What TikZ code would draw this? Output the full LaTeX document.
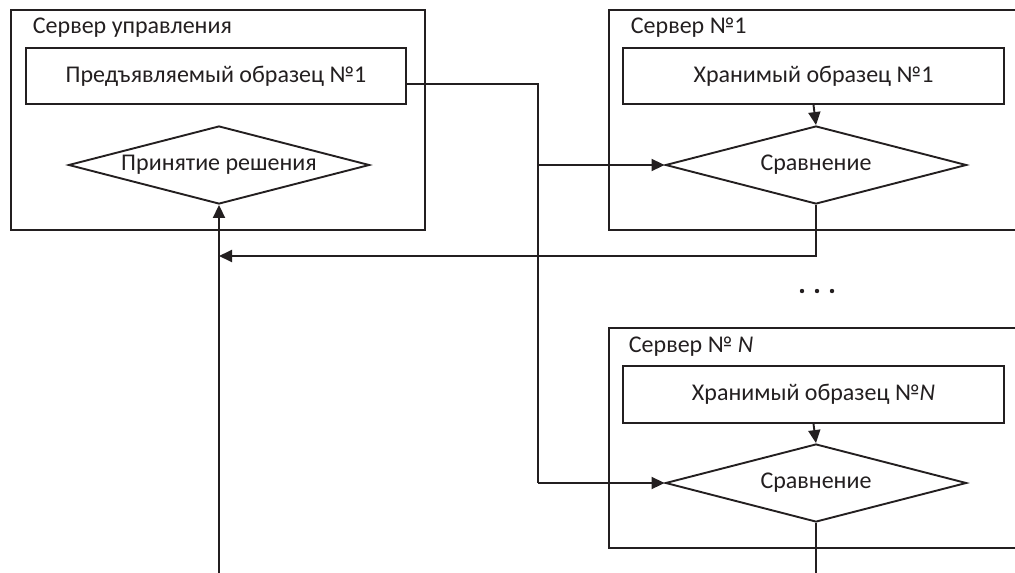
\documentclass[tikz,border=0pt]{standalone}
\usepackage{fontspec}
\setmainfont{Carlito}
\usetikzlibrary{shapes.geometric,arrows.meta,calc}
\definecolor{ink}{HTML}{231F20}
\begin{document}
\begin{tikzpicture}[x=1pt,y=-1pt,
  line width=1.9pt, draw=ink, text=ink,
  every node/.style={font=\fontsize{24}{28}\selectfont},
  frame/.style={draw, rectangle, anchor=north west, inner sep=0pt},
  title/.style={anchor=base west, inner sep=0pt},
  blockbox/.style={draw, rectangle, minimum width=380pt, minimum height=56pt, inner sep=0pt},
  decision/.style={draw, diamond, aspect=3.86, minimum width=301pt, minimum height=78pt, inner sep=0pt},
  arr/.style={-{Triangle[length=13pt,width=12pt]}}]
\useasboundingbox (0,0) rectangle (1015,573);
\clip (0,0) rectangle (1015,573);

% control server
\node[frame, minimum width=414pt, minimum height=220pt] (ctl) at (10,9) {};
\node[title] (ctltitle) at (32,33) {Сервер управления};
\node[blockbox] (pred) at (216,76) {Предъявляемый образец №1};
\node[decision] (dec) at (219,165) {Принятие решения};

% server 1
\node[frame, minimum width=430pt, minimum height=220pt] (s1) at (608,9) {};
\node[title] (s1title) at (630,33) {Сервер №1};
\node[blockbox, minimum width=381pt] (st1) at (813.5,76) {Хранимый образец №1};
\node[decision] (cmp1) at (816,165) {Сравнение};

% ellipsis between servers
\foreach \x in {802,817,832} \fill[ink] (\x,291) circle (2.2pt);

% server N
\node[frame, minimum width=430pt, minimum height=220pt] (sN) at (608,327) {};
\node[title] (sNtitle) at (628,352) {Сервер № \textit{N}};
\node[blockbox, minimum width=381pt, minimum height=57pt] (stN) at (813.5,394.5) {Хранимый образец №\textit{N}};
\node[decision] (cmpN) at (816,483) {Сравнение};

% connectors
\coordinate (split) at (538,84);
\coordinate (ret) at (219,256);
\coordinate (bottomL) at (219,580);
\coordinate (bottomR) at (816,580);

\draw ([yshift=-8pt]pred.east) -- (split) -- (split |- cmpN.west);
\draw[arr] (split |- cmpN.west) -- (cmpN.west);
\draw[arr] (split |- cmp1.west) -- (cmp1.west);
\draw[arr] (st1.south) -- (cmp1.north);
\draw[arr] (stN.south) -- (cmpN.north);
\draw[arr] (cmp1.south) |- (ret);
\draw[arr] (bottomL) -- (dec.south);
\draw (cmpN.south) -- (bottomR);
\end{tikzpicture}
\end{document}
